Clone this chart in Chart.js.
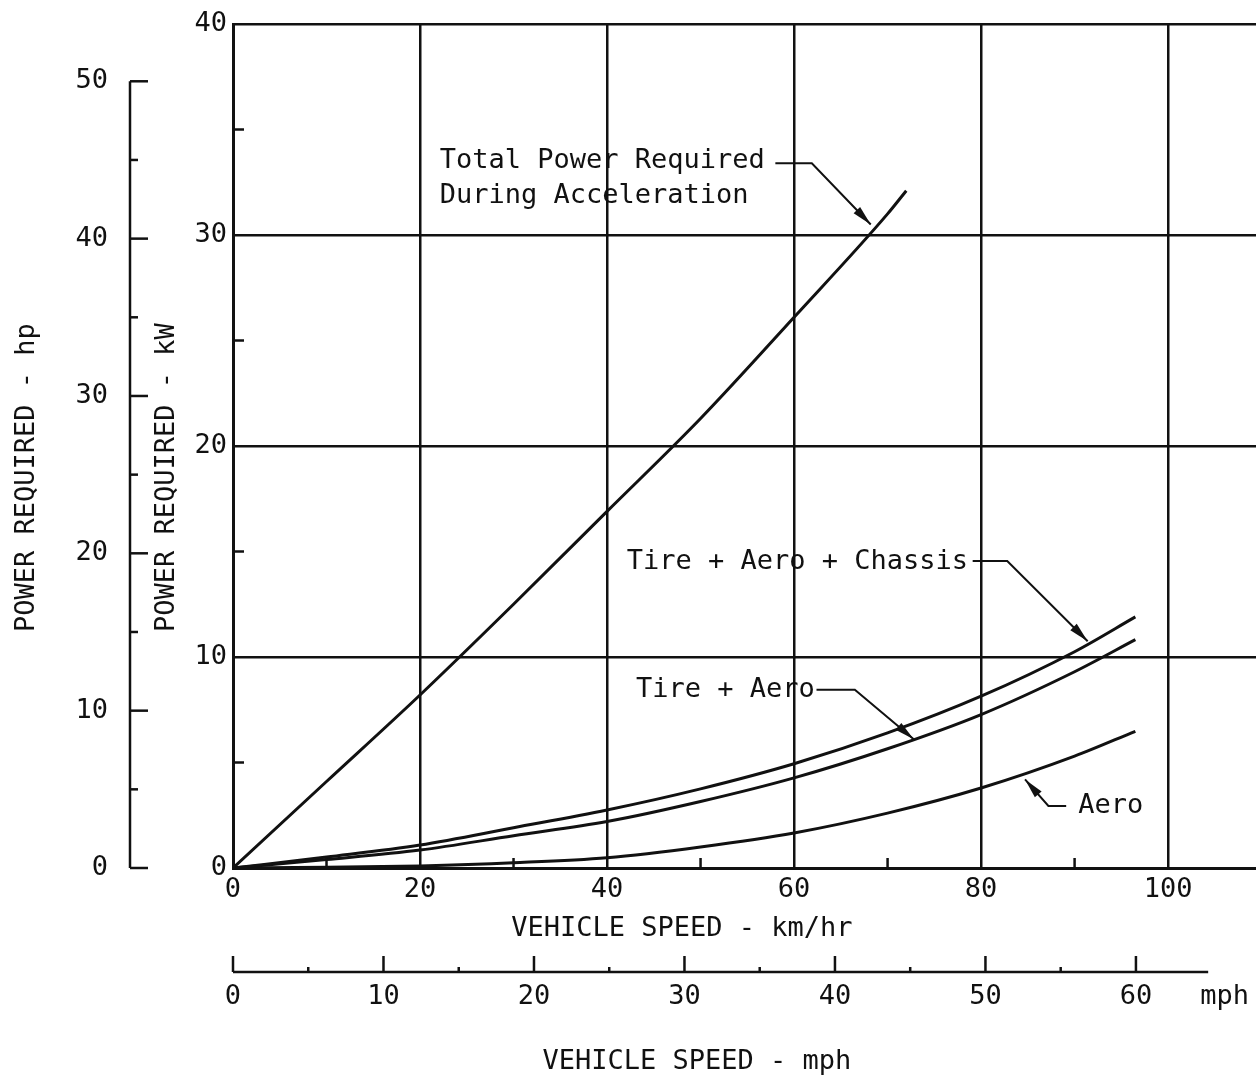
<!DOCTYPE html>
<html>
<head>
<meta charset="utf-8">
<title>Power required vs vehicle speed</title>
<script src="https://cdn.jsdelivr.net/npm/chart.js@4.4.1/dist/chart.umd.min.js"></script>
<style>
  html, body { margin: 0; padding: 0; background: #fff; }
</style>
</head>
<body>
<canvas id="canvas" width="1256" height="1078"></canvas>
<script>
// vehicle speed in km/hr, power in kW
var totalSpeeds = [0, 10, 20, 30, 40, 50, 60, 70, 72];
var totalPower  = [0, 4.1, 8.2, 12.5, 16.9, 21.3, 26.1, 31.0, 32.1];

var roadSpeeds      = [0, 10, 20, 30, 40, 50, 60, 70, 80, 90, 96.5];
var tireAeroChassis = [0, 0.52, 1.09, 1.91, 2.75, 3.75, 4.94, 6.4, 8.14, 10.25, 11.9];
var tireAero        = [0, 0.4, 0.85, 1.53, 2.2, 3.15, 4.27, 5.65, 7.27, 9.3, 10.82];
var aeroOnly        = [0, 0.03, 0.1, 0.25, 0.49, 1.0, 1.66, 2.6, 3.79, 5.3, 6.48];

// tick labels for each axis
var kmTicks  = [0, 20, 40, 60, 80, 100];
var kwTicks  = [0, 10, 20, 30, 40];
var hpTicks  = [0, 10, 20, 30, 40, 50];
var mphTicks = [0, 10, 20, 30, 40, 50, 60];
var kmMinor  = [10, 30, 50, 70, 90];
var kwMinor  = [5, 15, 25, 35];

var KW_PER_HP = 0.7457;
var KM_PER_MILE = 1.609344;
var X_MAX = 109.4;
var KW_MAX = 40;
var INK = '#111';
var FONT = '"DejaVu Sans Mono", monospace';

Chart.defaults.font.family = FONT;
Chart.defaults.font.size = 27;
Chart.defaults.color = INK;

function pairs(xs, ys) {
  return xs.map(function (x, i) { return { x: x, y: ys[i] }; });
}
function fixedTicks(list) {
  return function (scale) {
    scale.ticks = list.map(function (v) { return { value: v }; });
  };
}
// fixed box width for the stacked left axes, no extra room for end labels
function leftBox(width) {
  return function (sc) {
    sc.width = width;
    sc.paddingTop = 0;
    sc.paddingBottom = 0;
  };
}

// callouts with leader lines, in km/hr and kW
var callouts = [
  { lines: ['Total Power Required', 'During Acceleration'], at: [22.1, 33.5],
    path: [[58.0, 33.4], [61.9, 33.4], [68.2, 30.5]] },
  { lines: ['Tire + Aero + Chassis'], at: [42.1, 14.5],
    path: [[79.1, 14.55], [82.8, 14.55], [91.4, 10.75]] },
  { lines: ['Tire + Aero'], at: [43.1, 8.45],
    path: [[62.4, 8.45], [66.5, 8.45], [72.8, 6.1]] },
  { lines: ['Aero'], at: [90.4, 2.94],
    path: [[89.1, 2.94], [87.2, 2.94], [84.7, 4.2]] }
];

function seg(ctx, x1, y1, x2, y2) {
  ctx.beginPath();
  ctx.moveTo(x1, y1);
  ctx.lineTo(x2, y2);
  ctx.stroke();
}

var paperAxes = {
  id: 'paperAxes',
  afterDraw: function (chart) {
    var ctx = chart.ctx, a = chart.chartArea, s = chart.scales;
    ctx.save();
    ctx.strokeStyle = INK;
    ctx.fillStyle = INK;
    ctx.lineWidth = 2.5;

    // inside minor ticks
    kwMinor.forEach(function (v) {
      var y = s.y.getPixelForValue(v);
      seg(ctx, a.left, y, a.left + 11, y);
    });
    kmMinor.forEach(function (v) {
      var x = s.x.getPixelForValue(v);
      seg(ctx, x, a.bottom, x, a.bottom - 10);
    });

    // horsepower scale
    var hx = s.hp.right;
    seg(ctx, hx, s.hp.getPixelForValue(0), hx, s.hp.getPixelForValue(50));
    for (var h = 0; h <= 50; h += 5) {
      var hy = s.hp.getPixelForValue(h);
      seg(ctx, hx, hy, hx + (h % 10 === 0 ? 18 : 8), hy);
    }

    // mph scale
    var my = s.mph.top + 17;
    seg(ctx, s.mph.getPixelForValue(0), my, s.mph.getPixelForValue(64.8), my);
    for (var m = 0; m <= 60; m += 5) {
      var mx = s.mph.getPixelForValue(m);
      seg(ctx, mx, my, mx, my - (m % 10 === 0 ? 16 : 5));
    }
    ctx.font = '27px ' + FONT;
    ctx.textAlign = 'center';
    ctx.textBaseline = 'middle';
    ctx.fillText('mph', s.mph.getPixelForValue(65.9), s.mph.top + s.mph.options.ticks.padding + 16);

    // axis titles
    ctx.fillText('VEHICLE SPEED - km/hr', s.x.getPixelForValue(48), s.x.top + 61);
    ctx.fillText('VEHICLE SPEED - mph', s.x.getPixelForValue(49.6), s.mph.top + 107);
    var ty = s.y.getPixelForValue(18.5);
    [[s.hp.left + 27, 'POWER REQUIRED - hp'], [s.y.left + 37, 'POWER REQUIRED - kW']].forEach(function (t) {
      ctx.save();
      ctx.translate(t[0], ty);
      ctx.rotate(-Math.PI / 2);
      ctx.fillText(t[1], 0, 0);
      ctx.restore();
    });

    // callouts
    ctx.textAlign = 'left';
    ctx.lineWidth = 2;
    callouts.forEach(function (c) {
      var tx = s.x.getPixelForValue(c.at[0]), tyy = s.y.getPixelForValue(c.at[1]);
      c.lines.forEach(function (ln, i) { ctx.fillText(ln, tx, tyy + i * 35); });
      var pts = c.path.map(function (p) { return [s.x.getPixelForValue(p[0]), s.y.getPixelForValue(p[1])]; });
      ctx.beginPath();
      ctx.moveTo(pts[0][0], pts[0][1]);
      for (var i = 1; i < pts.length; i++) ctx.lineTo(pts[i][0], pts[i][1]);
      ctx.stroke();
      var tip = pts[pts.length - 1], prev = pts[pts.length - 2];
      var ang = Math.atan2(tip[1] - prev[1], tip[0] - prev[0]);
      ctx.save();
      ctx.translate(tip[0], tip[1]);
      ctx.rotate(ang);
      ctx.beginPath();
      ctx.moveTo(0, 0);
      ctx.lineTo(-20, -4.5);
      ctx.lineTo(-20, 4.5);
      ctx.closePath();
      ctx.fill();
      ctx.restore();
    });
    ctx.restore();
  }
};

var curve = { borderColor: INK, borderWidth: 3, pointRadius: 0, fill: false, cubicInterpolationMode: 'monotone' };

var ctx = document.getElementById('canvas').getContext('2d');
window.powerChart = new Chart(ctx, {
  type: 'line',
  data: {
    datasets: [
      Object.assign({ label: 'Total Power Required During Acceleration', data: pairs(totalSpeeds, totalPower) }, curve),
      Object.assign({ label: 'Tire + Aero + Chassis', data: pairs(roadSpeeds, tireAeroChassis) }, curve),
      Object.assign({ label: 'Tire + Aero', data: pairs(roadSpeeds, tireAero) }, curve),
      Object.assign({ label: 'Aero', data: pairs(roadSpeeds, aeroOnly) }, curve)
    ]
  },
  options: {
    responsive: false,
    animation: false,
    devicePixelRatio: 1,
    layout: { padding: { top: 24, left: 0, right: 0, bottom: 0 } },
    plugins: { legend: { display: false }, tooltip: { enabled: false } },
    scales: {
      x: {
        type: 'linear', position: 'bottom', weight: 0, min: 0, max: X_MAX,
        afterBuildTicks: fixedTicks(kmTicks),
        afterFit: function (sc) { sc.height = 87; },
        grid: { color: INK, lineWidth: 2.5, drawTicks: false },
        border: { color: INK, width: 3 },
        ticks: { padding: 6, maxRotation: 0, autoSkip: false }
      },
      mph: {
        type: 'linear', position: 'bottom', weight: 1, min: 0, max: X_MAX / KM_PER_MILE,
        afterBuildTicks: fixedTicks(mphTicks),
        afterFit: function (sc) { sc.height = 123; },
        grid: { display: false, drawTicks: false },
        border: { display: false },
        ticks: { padding: 26, maxRotation: 0, autoSkip: false }
      },
      y: {
        type: 'linear', position: 'left', weight: 0, min: 0, max: KW_MAX,
        afterBuildTicks: fixedTicks(kwTicks),
        afterFit: leftBox(103),
        grid: { color: INK, lineWidth: 2.5, drawTicks: false },
        border: { color: INK, width: 3 },
        ticks: { padding: 6 }
      },
      hp: {
        type: 'linear', position: 'left', weight: 1, min: 0, max: KW_MAX / KW_PER_HP,
        afterBuildTicks: fixedTicks(hpTicks),
        afterFit: leftBox(130),
        grid: { display: false, drawTicks: false },
        border: { display: false },
        ticks: { padding: 22 }
      }
    }
  },
  plugins: [paperAxes]
});
</script>
</body>
</html>
